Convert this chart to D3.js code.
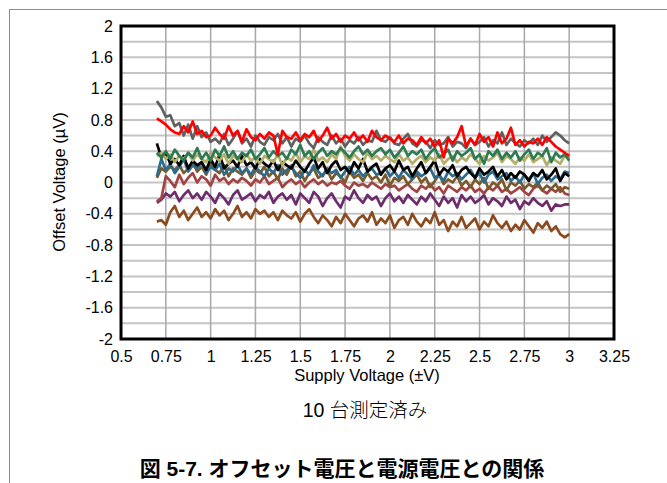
<!DOCTYPE html>
<html><head><meta charset="utf-8">
<script src="https://cdn.jsdelivr.net/npm/d3@7"></script>
<style>body{margin:0;background:#fff;} text{font-family:"Liberation Sans",Arial,sans-serif;}</style>
</head><body><svg id="c" width="667" height="483"></svg>
<script>
// Supply voltage grid (±V), 0.7 to 3.0 in 0.025 steps
const supplyVoltage = d3.range(93).map(i => +(0.7 + i * 0.025).toFixed(3));
const xTicks = [0.5,0.75,1,1.25,1.5,1.75,2,2.25,2.5,2.75,3,3.25];
const yTicks = [-2,-1.6,-1.2,-0.8,-0.4,0,0.4,0.8,1.2,1.6,2];
const seriesColors = ["#ff0000","#606060","#2e7a52","#b4ae68","#000000","#2d6b8c","#7a5a2b","#a34444","#6d2c6c","#8b4b1f"];

const unit1 = [0.82,0.78,0.74,0.68,0.64,0.62,0.72,0.64,0.78,0.62, 0.66,0.58,0.60,0.70,0.62,0.56,0.72,0.60,0.66,0.52, 0.68,0.58,0.54,0.62,0.56,0.64,0.60,0.36,0.66,0.58, 0.56,0.64,0.54,0.62,0.58,0.66,0.52,0.60,0.70,0.56, 0.62,0.52,0.60,0.56,0.64,0.54,0.60,0.52,0.66,0.58, 0.54,0.60,0.56,0.52,0.60,0.50,0.56,0.54,0.48,0.58, 0.50,0.56,0.46,0.54,0.32,0.56,0.50,0.58,0.72,0.46, 0.56,0.48,0.62,0.52,0.58,0.46,0.64,0.50,0.56,0.70, 0.48,0.54,0.46,0.52,0.50,0.56,0.48,0.58,0.52,0.46, 0.42,0.38,0.34];
const unit2 = [1.04,0.96,0.84,0.86,0.72,0.76,0.60,0.74,0.56,0.72, 0.58,0.64,0.52,0.56,0.50,0.62,0.48,0.56,0.66,0.50, 0.56,0.46,0.60,0.52,0.48,0.58,0.54,0.62,0.50,0.58, 0.46,0.56,0.52,0.60,0.50,0.44,0.58,0.52,0.48,0.60, 0.50,0.56,0.46,0.54,0.50,0.58,0.48,0.54,0.52,0.66, 0.54,0.52,0.58,0.50,0.48,0.56,0.62,0.50,0.46,0.54, 0.52,0.44,0.54,0.48,0.50,0.58,0.46,0.52,0.50,0.44, 0.56,0.48,0.52,0.58,0.46,0.54,0.50,0.64,0.48,0.56, 0.50,0.46,0.54,0.50,0.56,0.48,0.60,0.52,0.58,0.64, 0.60,0.54,0.50];
const unit3 = [0.38,0.32,0.40,0.30,0.42,0.34,0.28,0.38,0.32,0.44, 0.30,0.38,0.28,0.42,0.34,0.46,0.32,0.40,0.30,0.38, 0.34,0.42,0.30,0.36,0.44,0.32,0.40,0.34,0.38,0.30, 0.42,0.36,0.48,0.34,0.40,0.30,0.38,0.44,0.34,0.40, 0.36,0.44,0.38,0.32,0.40,0.46,0.36,0.42,0.34,0.40, 0.44,0.36,0.42,0.32,0.38,0.46,0.34,0.40,0.36,0.42, 0.30,0.38,0.44,0.32,0.36,0.42,0.28,0.40,0.34,0.38, 0.44,0.30,0.36,0.24,0.40,0.34,0.42,0.30,0.38,0.32, 0.40,0.28,0.36,0.42,0.30,0.38,0.34,0.44,0.26,0.38, 0.32,0.36,0.28];
const unit4 = [0.34,0.38,0.30,0.36,0.26,0.34,0.30,0.38,0.28,0.36, 0.30,0.26,0.38,0.32,0.28,0.36,0.24,0.34,0.30,0.26, 0.36,0.28,0.32,0.24,0.34,0.30,0.26,0.36,0.22,0.32, 0.28,0.38,0.26,0.34,0.30,0.42,0.28,0.32,0.26,0.36, 0.30,0.46,0.34,0.28,0.36,0.30,0.26,0.38,0.30,0.34, 0.28,0.34,0.30,0.26,0.36,0.28,0.32,0.24,0.30,0.34, 0.26,0.32,0.28,0.36,0.24,0.30,0.34,0.26,0.32,0.28, 0.36,0.30,0.24,0.34,0.28,0.32,0.38,0.26,0.34,0.30, 0.24,0.32,0.28,0.36,0.26,0.30,0.34,0.22,0.32,0.28, 0.24,0.34,0.32];
const unit5 = [0.50,0.32,0.38,0.24,0.30,0.22,0.34,0.18,0.28,0.22, 0.26,0.16,0.30,0.20,0.36,0.18,0.24,0.28,0.20,0.34, 0.22,0.26,0.18,0.30,0.24,0.20,0.28,0.16,0.26,0.22, 0.18,0.28,0.20,0.14,0.24,0.32,0.18,0.26,0.12,0.22, 0.28,0.16,0.20,0.12,0.26,0.18,0.30,0.14,0.20,0.24, 0.10,0.18,0.22,0.14,0.28,0.16,0.20,0.08,0.18,0.26, 0.12,0.20,0.28,0.10,0.18,0.14,0.22,0.08,0.16,0.20, 0.12,0.06,0.18,0.10,0.14,0.20,0.08,0.16,0.04,0.12, 0.06,0.14,0.10,0.02,0.12,0.08,0.16,0.04,0.10,0.18, 0.02,0.12,0.08];
const unit6 = [0.08,0.30,0.16,0.24,0.12,0.20,0.30,0.14,0.22,0.18, 0.26,0.12,0.20,0.16,0.24,0.10,0.18,0.14,0.22,0.12, 0.18,0.10,0.20,0.14,0.08,0.18,0.12,0.22,0.10,0.16, 0.20,0.12,0.06,0.16,0.10,0.22,0.14,0.08,0.18,0.12, 0.16,0.06,0.14,0.20,0.10,0.16,0.08,0.14,0.18,0.10, 0.12,0.18,0.08,0.14,0.06,0.16,0.10,0.04,0.14,0.08, 0.12,0.18,0.06,0.10,0.02,0.14,0.08,0.12,0.04,0.10, 0.16,0.06,0.12,0.00,0.10,0.14,0.04,0.08,0.12,0.02, 0.08,0.00,0.10,0.04,0.12,-0.02,0.06,0.10,0.02,0.08, 0.04,0.14,0.12];
const unit7 = [0.06,0.18,0.14,0.20,0.16,0.22,0.12,0.18,0.26,0.14, 0.20,0.10,0.24,0.16,0.12,0.22,0.08,0.18,0.14,0.10, 0.18,0.06,0.16,0.12,0.20,0.08,0.14,0.04,0.18,0.10, 0.22,0.08,0.14,0.02,0.12,0.18,0.06,0.10,0.16,0.04, 0.12,0.08,0.00,0.14,0.06,0.10,0.02,0.12,0.04,0.08, 0.00,0.10,-0.04,0.06,0.02,0.08,-0.02,0.04,0.10,0.00, 0.06,-0.06,0.02,0.10,-0.02,0.04,0.00,0.08,-0.04,0.02, -0.06,0.04,-0.02,0.06,-0.08,0.00,-0.04,0.04,-0.10,0.00, -0.04,0.02,-0.08,-0.02,-0.06,0.00,-0.10,-0.04,-0.08,-0.02, -0.12,-0.06,-0.08];
const unit8 = [-0.24,-0.20,0.08,0.02,-0.06,0.10,-0.02,0.06,0.12,0.00, 0.08,0.04,-0.04,0.10,0.02,0.06,-0.02,0.04,0.00,0.06, 0.02,-0.04,0.04,0.00,0.08,-0.02,0.02,0.06,-0.06,0.00, 0.04,-0.02,0.02,-0.06,0.00,0.04,-0.02,0.02,-0.04,0.00, -0.02,0.02,-0.04,-0.08,0.00,-0.04,-0.02,-0.06,0.00,-0.04, -0.08,-0.02,-0.06,-0.04,-0.10,-0.06,-0.02,-0.08,-0.12,-0.04, -0.08,-0.02,-0.10,-0.06,-0.14,-0.04,-0.08,-0.12,-0.06,-0.10, -0.04,-0.12,-0.08,-0.14,-0.06,-0.10,-0.04,-0.12,-0.08,-0.14, -0.10,-0.06,-0.12,-0.16,-0.08,-0.04,-0.10,-0.14,-0.08,-0.12, -0.06,-0.14,-0.16];
const unit9 = [-0.26,-0.22,-0.14,-0.18,-0.12,-0.24,-0.16,-0.10,-0.20,-0.14, -0.22,-0.12,-0.18,-0.26,-0.14,-0.20,-0.28,-0.16,-0.10,-0.22, -0.18,-0.14,-0.24,-0.16,-0.20,-0.12,-0.26,-0.18,-0.14,-0.22, -0.16,-0.28,-0.14,-0.20,-0.26,-0.12,-0.18,-0.30,-0.20,-0.14, -0.24,-0.32,-0.18,-0.22,-0.10,-0.20,-0.26,-0.16,-0.22,-0.18, -0.30,-0.20,-0.14,-0.24,-0.18,-0.26,-0.16,-0.22,-0.28,-0.18, -0.24,-0.14,-0.22,-0.30,-0.18,-0.26,-0.20,-0.32,-0.16,-0.24, -0.18,-0.26,-0.22,-0.16,-0.28,-0.20,-0.24,-0.30,-0.18,-0.26, -0.22,-0.34,-0.24,-0.28,-0.20,-0.26,-0.30,-0.24,-0.36,-0.28, -0.30,-0.28,-0.28];
const unit10 = [-0.50,-0.48,-0.54,-0.38,-0.30,-0.44,-0.36,-0.48,-0.40,-0.32, -0.44,-0.38,-0.46,-0.34,-0.42,-0.36,-0.48,-0.40,-0.30,-0.44, -0.38,-0.46,-0.34,-0.40,-0.36,-0.44,-0.38,-0.48,-0.36,-0.42, -0.46,-0.38,-0.50,-0.40,-0.34,-0.44,-0.52,-0.42,-0.48,-0.56, -0.44,-0.52,-0.40,-0.48,-0.56,-0.46,-0.42,-0.50,-0.38,-0.54, -0.46,-0.52,-0.42,-0.58,-0.48,-0.44,-0.54,-0.40,-0.50,-0.56, -0.46,-0.52,-0.38,-0.54,-0.48,-0.62,-0.50,-0.56,-0.44,-0.58, -0.52,-0.46,-0.60,-0.50,-0.56,-0.42,-0.52,-0.58,-0.50,-0.62, -0.54,-0.60,-0.48,-0.56,-0.64,-0.52,-0.58,-0.50,-0.62,-0.56, -0.66,-0.70,-0.66];

const seriesValues = [unit1,unit2,unit3,unit4,unit5,unit6,unit7,unit8,unit9,unit10];
// draw order (bottom to top)
const drawOrder = [9,8,7,6,5,4,3,2,1,0];

const svg = d3.select("#c");
const L = 121, R = 614, T = 26, B = 339;
const x = d3.scaleLinear().domain([0.5, 3.25]).range([L, R]);
const y = d3.scaleLinear().domain([-2, 2]).range([B, T]);

// outer frame
svg.append("rect").attr("x",9.5).attr("y",9.5).attr("width",720).attr("height",520)
  .attr("fill","none").attr("stroke","#8c8c8c").attr("stroke-width",1);

// horizontal gridlines every 0.2
const hGrid = d3.range(21).map(i => -2 + i * 0.2);
svg.append("g").selectAll("line").data(hGrid).join("line")
  .attr("x1",L).attr("x2",R).attr("y1",d=>y(d)).attr("y2",d=>y(d))
  .attr("stroke","#c4c4c4").attr("stroke-width",2);
// vertical gridlines
svg.append("g").selectAll("line").data(xTicks).join("line")
  .attr("x1",d=>x(d)).attr("x2",d=>x(d)).attr("y1",T).attr("y2",B)
  .attr("stroke","#a8a8a8").attr("stroke-width",1.5);

// lines
const line = d3.line().x((d,i)=>x(supplyVoltage[i])).y(d=>y(d));
svg.append("g").selectAll("path").data(drawOrder).join("path")
  .attr("d", k => line(seriesValues[k]))
  .attr("fill","none").attr("stroke", k => seriesColors[k])
  .attr("stroke-width",2.7).attr("stroke-linejoin","round");

// plot border
svg.append("rect").attr("x",L).attr("y",T).attr("width",R-L).attr("height",B-T)
  .attr("fill","none").attr("stroke","#000").attr("stroke-width",3);

// axes (labels only)
const yAxis = d3.axisLeft(y).tickValues(yTicks).tickSize(0).tickPadding(8).tickFormat(d => String(+d.toFixed(1)));
const gy = svg.append("g").attr("transform",`translate(${L},0)`).call(yAxis);
gy.select(".domain").remove();
gy.selectAll("text").attr("font-size",16).attr("fill","#000").attr("font-family","Liberation Sans, Arial, sans-serif");

const xAxis = d3.axisBottom(x).tickValues(xTicks).tickSize(0).tickPadding(12).tickFormat(d => String(d));
const gx = svg.append("g").attr("transform",`translate(0,${B})`).call(xAxis);
gx.select(".domain").remove();
gx.selectAll("text").attr("font-size",16).attr("fill","#000").attr("font-family","Liberation Sans, Arial, sans-serif");

svg.append("text").attr("x",367).attr("y",381).attr("text-anchor","middle")
  .attr("font-size",16.5).text("Supply Voltage (±V)");
svg.append("text").attr("transform","translate(65,182) rotate(-90)").attr("text-anchor","middle")
  .attr("font-size",16.5).text("Offset Voltage (µV)");
svg.append("text").attr("x",365).attr("y",417).attr("text-anchor","middle")
  .attr("font-size",19.5).attr("font-weight",300).style("font-family","'Liberation Sans','Noto Sans CJK JP',sans-serif").text("10 台測定済み");
svg.append("text").attr("x",342).attr("y",476).attr("text-anchor","middle")
  .attr("font-size",21).attr("font-weight","bold").style("font-family","'Liberation Sans','Noto Sans CJK JP',sans-serif").text("図 5-7. オフセット電圧と電源電圧との関係");
</script></body></html>
